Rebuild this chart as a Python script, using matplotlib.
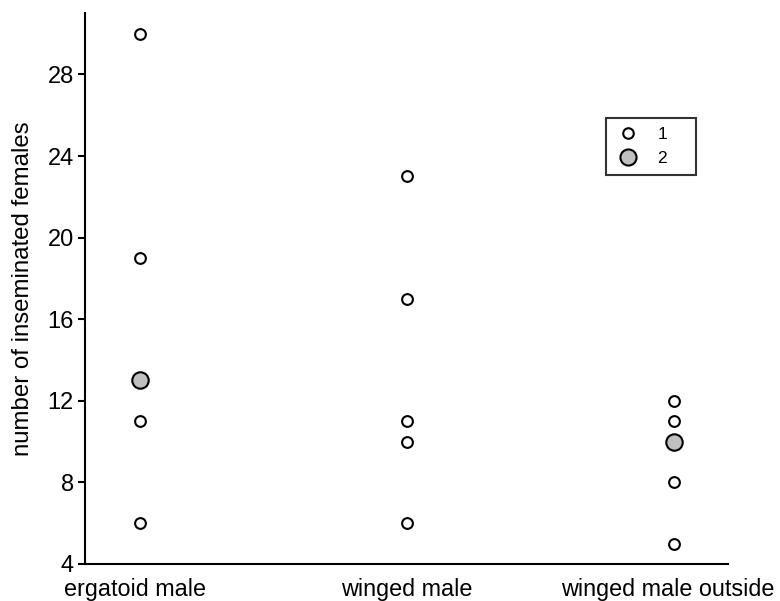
import matplotlib.pyplot as plt
from matplotlib.lines import Line2D

plt.rcParams['font.family'] = ['Liberation Sans', 'DejaVu Sans']

# Data
categories = ['ergatoid male', 'winged male', 'winged male outside']
# values with one colony each (small white markers)
single_x = [0, 0, 0, 0, 1, 1, 1, 1, 1, 2, 2, 2, 2]
single_y = [30, 19, 11, 6, 23, 17, 11, 10, 6, 12, 11, 8, 5]
# values with two colonies (larger grey markers)
double_x = [0, 2]
double_y = [13, 10]
legend_labels = ['1', '2']

fig = plt.figure(figsize=(7.8, 6.01), dpi=100)
ax = fig.add_axes([0.109, 0.0616, 0.824, 0.9164])

ax.scatter(single_x, single_y, s=60, facecolor='white', edgecolor='black',
           linewidth=1.5, zorder=3)
ax.scatter(double_x, double_y, s=140, facecolor='#c0c0c0', edgecolor='black',
           linewidth=1.5, zorder=3)

ax.set_xlim(-0.205, 2.2)
ax.set_ylim(4, 31)
ax.set_yticks(range(4, 29, 4))
# labels sit slightly left of the point columns, as in the original
ax.set_xticks([-0.017, 1, 1.974])
ax.set_xticklabels(categories)
ax.set_ylabel('number of inseminated females', fontsize=17.3, labelpad=10)

for side in ['top', 'right']:
    ax.spines[side].set_visible(False)
for side in ['left', 'bottom']:
    ax.spines[side].set_linewidth(1.5)

ax.tick_params(axis='y', direction='out', length=5, width=1.5, labelsize=17, pad=3)
ax.tick_params(axis='x', length=0, labelsize=16.8, pad=10)

handles = [
    Line2D([], [], linestyle='none', marker='o', markersize=7.6,
           markerfacecolor='white', markeredgecolor='black', markeredgewidth=1.5),
    Line2D([], [], linestyle='none', marker='o', markersize=11.6,
           markerfacecolor='#c0c0c0', markeredgecolor='black', markeredgewidth=1.5),
]
leg = ax.legend(handles, [lab + '    ' for lab in legend_labels], loc='upper left',
                bbox_to_anchor=(0.81, 0.81), fontsize=12.5, frameon=True,
                fancybox=False, borderpad=0.5, handletextpad=0.9,
                labelspacing=0.55, handlelength=1.6, borderaxespad=0)
leg.get_frame().set_edgecolor('black')
leg.get_frame().set_linewidth(1.5)

fig.savefig('out.png', dpi=100)
